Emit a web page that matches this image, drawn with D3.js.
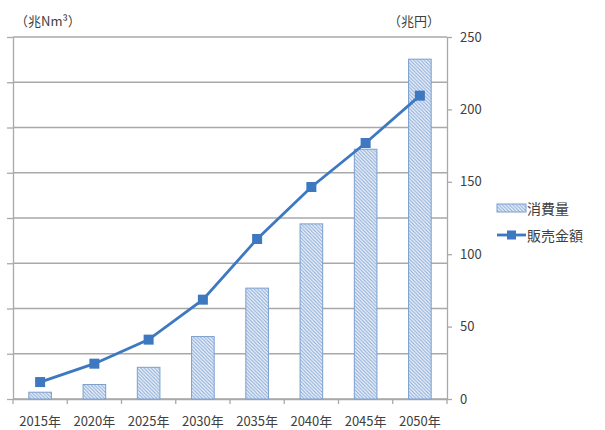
<!DOCTYPE html>
<html>
<head>
<meta charset="utf-8">
<script src="https://cdn.jsdelivr.net/npm/d3@7"></script>
<style>
  html, body { margin: 0; padding: 0; background: #fff; }
  svg { display: block; }
  text { font-family: "Noto Sans CJK JP", "Noto Sans", sans-serif; fill: #404040; }
</style>
</head>
<body>
<svg id="chart" width="605" height="430"></svg>
<script>
// Hydrogen consumption (left axis, bars) and sales value (right axis, line)
const years = ["2015年", "2020年", "2025年", "2030年", "2035年", "2040年", "2045年", "2050年"];
const consumption = [0.15, 0.32, 0.70, 1.38, 2.45, 3.87, 5.52, 7.51];   // 兆Nm³
const sales = [11.7, 24.4, 41.0, 68.6, 110.5, 146.4, 176.8, 209.5];      // 兆円
const leftTicks = [0, 1, 2, 3, 4, 5, 6, 7, 8];
const rightTicks = [0, 50, 100, 150, 200, 250];
const legendLabels = ["消費量", "販売金額"];
const unitLeft = "（兆Nm³）";
const unitRight = "（兆円）";

const svg = d3.select("#chart");
const plot = { left: 13, right: 447, top: 37, bottom: 399 };
const gridColor = "#a9a9a9";
const blue = "#3d78c1";
const barEdge = "#7b9fd0";

const x = d3.scaleBand().domain(years).range([plot.left, plot.right])
  .paddingInner(0.583).paddingOuter(0.2915);
const yL = d3.scaleLinear().domain([0, 8]).range([plot.bottom, plot.top]);
const yR = d3.scaleLinear().domain([0, 250]).range([plot.bottom, plot.top]);

// Diagonal hatch fill for the bars
const defs = svg.append("defs");
const pat = defs.append("pattern").attr("id", "hatch")
  .attr("patternUnits", "userSpaceOnUse").attr("width", 3.5).attr("height", 3.5);
pat.append("rect").attr("width", 3.5).attr("height", 3.5).attr("fill", "#e9eff8");
pat.append("path").attr("d", "M-1,-1 L4.5,4.5 M-1,2.5 L1,4.5 M2.5,-1 L4.5,1")
  .attr("stroke", "#82a5d4").attr("stroke-width", 0.9);

// Horizontal gridlines on the left-axis divisions
svg.append("g").selectAll("line").data(leftTicks).join("line")
  .attr("x1", plot.left).attr("x2", plot.right)
  .attr("y1", d => yL(d)).attr("y2", d => yL(d))
  .attr("stroke", gridColor).attr("stroke-width", 1.3);

// Left axis (tick marks only)
const gL = svg.append("g").attr("transform", `translate(${plot.left},0)`)
  .call(d3.axisLeft(yL).tickValues(leftTicks).tickFormat("").tickSize(6).tickSizeOuter(0));
gL.selectAll("path, line").attr("stroke", gridColor).attr("stroke-width", 1.3);

// Right axis
const gR = svg.append("g").attr("transform", `translate(${plot.right},0)`)
  .call(d3.axisRight(yR).tickValues(rightTicks).tickSize(5).tickSizeOuter(0).tickPadding(8));
gR.selectAll("path, line").attr("stroke", gridColor).attr("stroke-width", 1.3);
gR.selectAll("text").attr("font-size", 13).attr("fill", "#404040")
  .style("font-family", '"Noto Sans CJK JP", sans-serif');

// Category axis with ticks between categories
const gx = svg.append("g").attr("transform", `translate(0,${plot.bottom})`)
  .call(d3.axisBottom(x).tickSize(0).tickPadding(18));
gx.select(".domain").attr("stroke", gridColor).attr("stroke-width", 1.3);
gx.selectAll("text").attr("font-size", 13).attr("fill", "#404040")
  .style("font-family", '"Noto Sans CJK JP", sans-serif');
const half = (x.step() - x.bandwidth()) / 2;
const bounds = years.map(d => x(d) - half).concat([x(years[years.length - 1]) + x.bandwidth() + half]);
svg.append("g").selectAll("line").data(bounds).join("line")
  .attr("x1", d => d).attr("x2", d => d)
  .attr("y1", plot.bottom).attr("y2", plot.bottom + 5)
  .attr("stroke", gridColor).attr("stroke-width", 1.3);

// Bars
svg.append("g").selectAll("rect").data(consumption).join("rect")
  .attr("x", (d, i) => x(years[i]))
  .attr("y", d => yL(d))
  .attr("width", x.bandwidth())
  .attr("height", d => yL(0) - yL(d))
  .attr("fill", "url(#hatch)")
  .attr("stroke", barEdge).attr("stroke-width", 1);

// Sales line with square markers
const cx = (i) => x(years[i]) + x.bandwidth() / 2;
svg.append("path").datum(sales)
  .attr("d", d3.line().x((d, i) => cx(i)).y(d => yR(d)))
  .attr("fill", "none").attr("stroke", blue).attr("stroke-width", 2.8);
const m = 10;
svg.append("g").selectAll("rect").data(sales).join("rect")
  .attr("x", (d, i) => cx(i) - m / 2).attr("y", d => yR(d) - m / 2)
  .attr("width", m).attr("height", m).attr("fill", blue);

// Unit labels
svg.append("text").attr("x", 15).attr("y", 26).attr("font-size", 13).text(unitLeft);
svg.append("text").attr("x", 388).attr("y", 26).attr("font-size", 13).text(unitRight);

// Legend
const lg = svg.append("g");
lg.append("rect").attr("x", 497).attr("y", 204).attr("width", 29).attr("height", 8)
  .attr("fill", "url(#hatch)").attr("stroke", barEdge).attr("stroke-width", 1);
lg.append("text").attr("x", 527).attr("y", 208).attr("dominant-baseline", "central")
  .attr("font-size", 14).text(legendLabels[0]);
lg.append("line").attr("x1", 497).attr("x2", 526).attr("y1", 235).attr("y2", 235)
  .attr("stroke", blue).attr("stroke-width", 2.8);
lg.append("rect").attr("x", 507).attr("y", 230.5).attr("width", 9).attr("height", 9).attr("fill", blue);
lg.append("text").attr("x", 527).attr("y", 235).attr("dominant-baseline", "central")
  .attr("font-size", 14).text(legendLabels[1]);
</script>
</body>
</html>
